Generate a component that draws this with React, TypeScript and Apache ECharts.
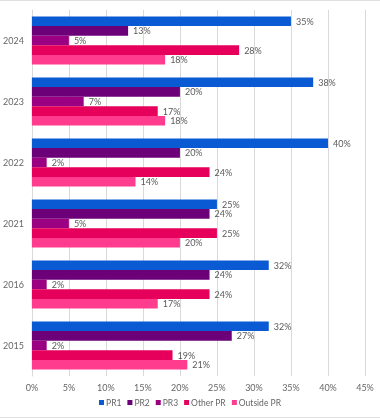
import React, { useEffect, useRef } from "react";
import * as echarts from "echarts";

const years = ["2015", "2016", "2021", "2022", "2023", "2024"];
const seriesNames = ["PR1", "PR2", "PR3", "Other PR", "Outside PR"];
const pr1 = [32, 32, 25, 40, 38, 35];
const pr2 = [27, 24, 24, 20, 20, 13];
const pr3 = [2, 2, 5, 2, 7, 5];
const otherPr = [19, 24, 25, 24, 17, 28];
const outsidePr = [21, 17, 20, 14, 18, 18];
const colors = ["#0A5BD3", "#6B0079", "#9C0082", "#E6005C", "#FF3C8D"];
const xTicks = [0, 5, 10, 15, 20, 25, 30, 35, 40, 45];

const FONT = "Lato, 'Open Sans', sans-serif";

export default function App() {
  const ref = useRef<HTMLDivElement>(null);
  useEffect(() => {
    if (!ref.current) return;
    const chart = echarts.init(ref.current, undefined, { renderer: "svg" });
    const values = [pr1, pr2, pr3, otherPr, outsidePr];
    chart.setOption({
      animation: false,
      textStyle: { fontFamily: FONT },
      grid: { left: 29, right: 15, top: 10, bottom: 42, containLabel: false },
      xAxis: {
        type: "value",
        min: xTicks[0],
        max: xTicks[xTicks.length - 1],
        interval: 5,
        axisLabel: { formatter: "{value}%", color: "#666666", fontSize: 9, fontFamily: FONT, margin: 7 },
        splitLine: { show: true, lineStyle: { color: "#d9d9d9", width: 1 } },
        axisLine: { show: false },
        axisTick: { show: false },
      },
      yAxis: {
        type: "category",
        data: years,
        axisLabel: { color: "#666666", fontSize: 9, fontFamily: FONT, margin: 8 },
        axisLine: { show: true, lineStyle: { color: "#d9d9d9" } },
        axisTick: { show: false },
        splitLine: { show: false },
      },
      legend: {
        bottom: 6,
        left: "center",
        icon: "rect",
        itemWidth: 5,
        itemHeight: 5,
        itemGap: 6,
        textStyle: { color: "#666666", fontSize: 8.5, fontFamily: FONT, padding: [0, 0, 0, -3] },
        data: seriesNames,
      },
      graphic: [
        { type: "line", shape: { x1: 0, y1: 0.5, x2: 380, y2: 0.5 }, style: { stroke: "#e0e0e0", lineWidth: 1 } },
        { type: "line", shape: { x1: 0, y1: 417.5, x2: 380, y2: 417.5 }, style: { stroke: "#e0e0e0", lineWidth: 1 } },
      ],
      series: seriesNames.map((name, i) => ({
        name,
        type: "bar",
        data: values[i],
        barGap: "0%",
        barCategoryGap: "21%",
        itemStyle: { color: colors[i] },
        label: {
          show: true,
          position: "right",
          distance: 5,
          formatter: "{c}%",
          color: "#595959",
          fontSize: 9,
          fontFamily: FONT,
        },
      })),
    });
    return () => chart.dispose();
  }, []);
  return <div ref={ref} style={{ width: 380, height: 418, position: "fixed", left: 0, top: 0 }} />;
}
